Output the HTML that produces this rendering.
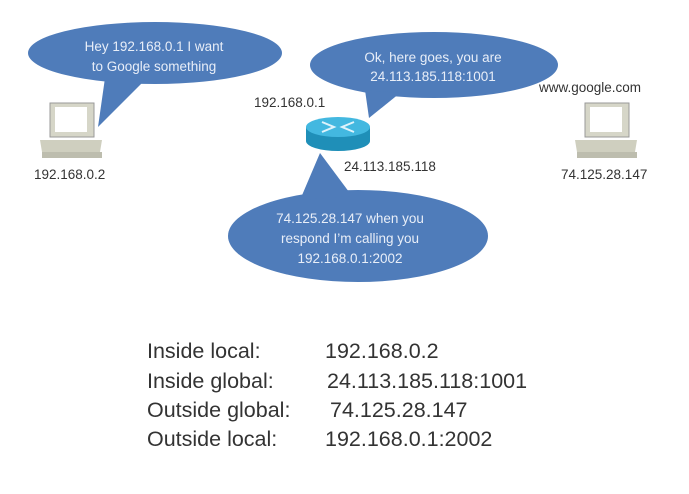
<!DOCTYPE html>
<html><head><style>body{margin:0;background:#fff}svg{display:block}</style></head><body>
<svg width="689" height="494" viewBox="0 0 689 494" xmlns="http://www.w3.org/2000/svg" font-family="Liberation Sans, sans-serif">
<rect width="689" height="494" fill="#fff"/>
<g fill="#4f7cba">
<ellipse cx="155" cy="53" rx="127" ry="31"/>
<polygon points="105,78 145,80 98,127"/>
<ellipse cx="434" cy="65" rx="124" ry="33"/>
<polygon points="365,90 400,93 369,118"/>
<ellipse cx="358" cy="236" rx="130" ry="46"/>
<polygon points="300,200 352,196 320,153"/>
</g>
<g fill="#e8eef8" font-size="13.5" text-anchor="middle">
<text x="154" y="51">Hey 192.168.0.1  I want</text>
<text x="154" y="71">to Google something</text>
<text x="433" y="62">Ok, here goes,  you are</text>
<text x="433" y="81">24.113.185.118:1001</text>
<text x="350" y="223">74.125.28.147 when you</text>
<text x="350" y="243">respond I’m calling you</text>
<text x="350" y="263">192.168.0.1:2002</text>
</g>
<path d="M306,127 L306,141 A32,10 0 0 0 370,141 L370,127 Z" fill="#1f8fb8"/>
<ellipse cx="338" cy="127" rx="32" ry="10" fill="#43b8e0"/>
<g stroke="#dff3fb" stroke-width="2" fill="none"><path d="M322,122 L334,127 L322,132 M354,122 L342,127 L354,132"/></g>
<g>
<rect x="50" y="103" width="44" height="34" fill="#d6d6c8" stroke="#999" />
<rect x="55" y="107" width="32" height="25" fill="#fff"/>
<polygon points="40,140 102,140 100,152 42,152" fill="#cfcfbf"/>
<rect x="42" y="152" width="60" height="6" fill="#bdbdae"/>
</g>
<g>
<rect x="585" y="103" width="44" height="34" fill="#d6d6c8" stroke="#999"/>
<rect x="590" y="107" width="32" height="25" fill="#fff"/>
<polygon points="575,140 637,140 635,152 577,152" fill="#cfcfbf"/>
<rect x="577" y="152" width="60" height="6" fill="#bdbdae"/>
</g>
<g fill="#333" font-size="13.5">
<text x="34" y="179">192.168.0.2</text>
<text x="254" y="107">192.168.0.1</text>
<text x="344" y="171">24.113.185.118</text>
<text x="539" y="92">www.google.com</text>
<text x="561" y="179">74.125.28.147</text>
</g>
<g fill="#333" font-size="21.5">
<text x="147" y="358">Inside local:</text><text x="325" y="358">192.168.0.2</text>
<text x="147" y="388">Inside global:</text><text x="327" y="388">24.113.185.118:1001</text>
<text x="147" y="417">Outside global:</text><text x="330" y="417">74.125.28.147</text>
<text x="147" y="446">Outside local:</text><text x="325" y="446">192.168.0.1:2002</text>
</g>
</svg>
</body></html>
